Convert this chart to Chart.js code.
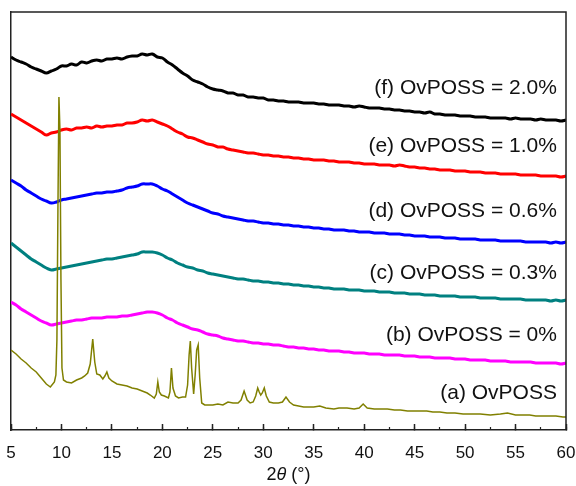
<!DOCTYPE html>
<html lang="en">
<head>
    <meta charset="UTF-8">
    <title>XRD OvPOSS</title>
    <style>
        body { margin: 0; background: #fff; }
        canvas { display: block; }
    </style>
    <script src="https://cdn.jsdelivr.net/npm/chart.js"></script>
</head>
<body>
    <canvas id="chart" width="576" height="486"></canvas>

    <script>
        // 2theta grid shared by the amorphous patterns (b) to (f)
        const twoTheta = [5, 5.5, 6, 6.5, 7, 7.5, 8, 8.5, 9, 9.5, 10, 10.5, 11, 11.5, 12, 12.5, 13, 13.5, 14, 14.5,
            15, 15.5, 16, 16.5, 17, 17.5, 18, 18.5, 19, 19.5, 20, 20.5, 21, 21.5, 22, 22.5, 23, 23.5, 24, 24.5,
            25, 25.5, 26, 26.5, 27, 27.5, 28, 28.5, 29, 29.5, 30, 30.5, 31, 31.5, 32, 32.5, 33, 33.5, 34, 34.5,
            35, 35.5, 36, 36.5, 37, 37.5, 38, 38.5, 39, 39.5, 40, 40.5, 41, 41.5, 42, 42.5, 43, 43.5, 44, 44.5,
            45, 45.5, 46, 46.5, 47, 47.5, 48, 48.5, 49, 49.5, 50, 50.5, 51, 51.5, 52, 52.5, 53, 53.5, 54, 54.5,
            55, 55.5, 56, 56.5, 57, 57.5, 58, 58.5, 59, 59.5, 60];

        // intensities (a.u., stacked with offsets as in the figure)
        const ovposs20 = [373, 370, 368, 366, 363, 361, 359, 357, 359, 361, 364, 364, 366, 365, 368, 367, 369, 370, 369, 371,
            371, 372, 371, 373, 374, 374, 376, 375, 376, 373, 372, 368, 365, 361, 357, 354, 350, 348, 346, 343,
            341, 340, 339, 337, 337, 335, 335, 333, 333, 332, 332, 330, 330, 329, 329, 328, 328, 328, 327, 327,
            327, 326, 326, 325, 325, 325, 324, 324, 323, 324, 323, 322, 322, 322, 321, 321, 320, 320, 319, 319,
            318, 318, 317, 318, 316, 316, 315, 315, 315, 314, 314, 314, 313, 313, 313, 312, 312, 312, 312, 311,
            312, 311, 311, 311, 310, 311, 310, 310, 310, 309, 310];
        const ovposs10 = [316, 313, 310, 307, 304, 301, 298, 295, 297, 298, 300, 301, 300, 302, 302, 303, 302, 304, 303, 304,
            304, 305, 305, 307, 307, 308, 310, 309, 310, 308, 306, 304, 301, 298, 296, 293, 292, 290, 288, 286,
            285, 283, 283, 281, 280, 279, 278, 277, 277, 276, 275, 275, 274, 274, 273, 273, 272, 272, 271, 271,
            270, 270, 270, 269, 269, 268, 268, 268, 267, 267, 266, 266, 266, 265, 265, 265, 264, 265, 264, 263,
            263, 262, 262, 261, 261, 260, 260, 260, 259, 259, 259, 258, 258, 258, 257, 257, 257, 256, 256, 256,
            256, 255, 255, 255, 255, 254, 254, 254, 254, 253, 254];
        const ovposs06 = [250, 247, 244, 240, 237, 234, 231, 229, 227, 228, 230, 231, 232, 233, 234, 235, 236, 237, 237, 238,
            238, 239, 240, 242, 243, 244, 246, 246, 246, 244, 241, 239, 236, 233, 230, 227, 225, 223, 221, 219,
            217, 216, 214, 213, 212, 211, 210, 209, 209, 208, 207, 207, 206, 206, 205, 205, 204, 204, 203, 203,
            202, 202, 201, 201, 200, 200, 200, 199, 199, 198, 198, 198, 197, 197, 197, 196, 196, 196, 195, 195,
            194, 194, 194, 193, 193, 193, 192, 192, 192, 191, 191, 191, 191, 190, 190, 190, 190, 189, 189, 189,
            189, 189, 188, 188, 188, 188, 188, 187, 188, 187, 188];
        const ovposs03 = [187, 183, 179, 175, 171, 168, 165, 162, 160, 161, 162, 163, 164, 165, 166, 167, 168, 169, 170, 171,
            171, 172, 173, 174, 175, 176, 178, 178, 178, 177, 175, 172, 170, 167, 165, 163, 162, 160, 159, 157,
            156, 155, 154, 153, 152, 151, 151, 150, 149, 149, 148, 148, 147, 147, 146, 146, 145, 145, 144, 144,
            143, 143, 142, 142, 141, 141, 141, 140, 140, 140, 139, 139, 139, 138, 138, 138, 137, 137, 137, 136,
            136, 136, 135, 135, 135, 134, 134, 134, 134, 133, 133, 133, 133, 132, 132, 132, 132, 131, 131, 131,
            131, 131, 130, 130, 130, 130, 130, 129, 130, 129, 130];
        const ovposs00 = [128, 125, 121, 118, 115, 112, 109, 107, 105, 106, 107, 108, 109, 110, 110, 111, 112, 112, 112, 113,
            113, 113, 114, 114, 115, 116, 117, 118, 118, 117, 115, 112, 110, 107, 105, 103, 101, 100, 98, 96,
            95, 94, 92, 91, 90, 89, 89, 88, 87, 87, 86, 86, 85, 85, 84, 83, 83, 82, 82, 81,
            81, 80, 80, 79, 79, 79, 78, 78, 77, 77, 77, 76, 76, 76, 75, 75, 75, 75, 74, 74,
            74, 73, 73, 73, 72, 72, 72, 72, 71, 71, 71, 70, 70, 70, 70, 69, 69, 69, 69, 68,
            68, 68, 68, 68, 67, 67, 67, 67, 67, 66, 67];

        // pure OvPOSS crystalline pattern, finer steps around the peaks
        const ovpossTheta = [5, 5.5, 6, 6.5, 7, 7.5, 8, 8.5, 8.9, 9.3, 9.45, 9.55, 9.65, 9.75, 9.85, 9.95, 10.05, 10.2, 10.5, 11,
            11.5, 12, 12.3, 12.6, 12.85, 13.1, 13.3, 13.5, 13.8, 14.1, 14.3, 14.5, 14.7, 15, 15.5, 16, 16.5, 17, 17.5, 18,
            18.5, 18.8, 19.2, 19.4, 19.55, 19.7, 19.9, 20.2, 20.6, 20.75, 20.9, 21.05, 21.3, 21.6, 22, 22.3, 22.5, 22.65, 22.77, 22.9,
            23.1, 23.25, 23.4, 23.55, 23.7, 23.9, 24.2, 24.6, 25, 25.5, 26, 26.5, 27, 27.5, 27.8, 28.1, 28.4, 28.7, 29, 29.25,
            29.45, 29.6, 29.75, 29.9, 30.1, 30.3, 30.6, 31, 31.5, 31.9, 32.25, 32.6, 33, 33.5, 34, 34.5, 35, 35.6, 36.2, 37,
            37.5, 38.3, 39, 39.5, 39.9, 40.3, 41, 41.6, 42.3, 43, 43.6, 44.3, 45, 45.6, 46.2, 46.8, 47.5, 48.2, 49, 49.8,
            50.5, 51.5, 52.5, 53.5, 54.2, 55, 56, 56.4, 57, 58, 59, 59.7, 60];
        const ovposs = [80, 76, 71, 67, 62, 58, 52, 46, 43, 48, 55, 90, 220, 333, 300, 150, 62, 50, 48, 47,
            50, 52, 54, 57, 66, 91, 68, 56, 55, 51, 54, 58, 52, 49, 46, 45, 44, 42, 41, 39,
            37, 35, 32, 36, 48, 38, 35, 34, 32, 38, 62, 42, 34, 32, 33, 33, 45, 75, 89, 62,
            36, 55, 80, 85, 52, 27, 25, 25, 25, 26, 25, 28, 27, 27, 30, 39, 30, 27, 28, 34,
            42, 38, 35, 37, 42, 34, 28, 27, 27, 28, 33, 28, 25, 24, 23, 23, 23, 24, 22, 21,
            22, 22, 21, 22, 26, 22, 21, 21, 21, 20, 20, 19, 19, 19, 19, 18, 18, 17, 17, 16,
            16, 16, 15, 16, 17, 15, 15, 15, 14, 14, 14, 13, 13];

        const seriesNames = ['(a) OvPOSS', '(b) OvPOSS = 0%', '(c) OvPOSS = 0.3%', '(d) OvPOSS = 0.6%', '(e) OvPOSS = 1.0%', '(f) OvPOSS = 2.0%'];
        const seriesColors = ['#808000', '#ff00ff', '#008080', '#0000ff', '#ff0000', '#000000'];
        // where each curve's name sits (2theta, intensity)
        const labelSpots = [[59.1, 37], [59.1, 95], [59.1, 157], [59.1, 219], [59.1, 284], [59.1, 342]];

        const xTicks = [5, 10, 15, 20, 25, 30, 35, 40, 45, 50, 55, 60];

        function toPoints(xs, ys) {
            return xs.map((x, i) => ({ x: x, y: ys[i] }));
        }

        const curves = [
            toPoints(ovpossTheta, ovposs),
            toPoints(twoTheta, ovposs00),
            toPoints(twoTheta, ovposs03),
            toPoints(twoTheta, ovposs06),
            toPoints(twoTheta, ovposs10),
            toPoints(twoTheta, ovposs20)
        ];

        const framePlugin = {
            id: 'frame',
            afterDraw(chart) {
                const { ctx, chartArea: a } = chart;
                ctx.save();
                ctx.strokeStyle = '#222';
                ctx.lineWidth = 1.5;
                ctx.beginPath();
                ctx.moveTo(a.left, a.top);
                ctx.lineTo(a.right, a.top);
                ctx.lineTo(a.right, a.bottom);
                ctx.stroke();
                ctx.restore();
            }
        };

        const labelPlugin = {
            id: 'curveLabels',
            afterDatasetsDraw(chart) {
                const { ctx, scales } = chart;
                ctx.save();
                ctx.font = '21px "Liberation Sans", Arial, sans-serif';
                ctx.fillStyle = '#111';
                ctx.textAlign = 'right';
                ctx.textBaseline = 'middle';
                seriesNames.forEach((name, i) => {
                    const px = scales.x.getPixelForValue(labelSpots[i][0]);
                    const py = scales.y.getPixelForValue(labelSpots[i][1]);
                    ctx.fillText(name, px, py);
                });

                // axis title: 2θ (°) with an italic theta
                const a = chart.chartArea;
                const parts = [['2', ''], ['\u03b8', 'italic '], [' (\u00b0)', '']];
                let total = 0;
                parts.forEach(p => {
                    ctx.font = p[1] + '18px "Liberation Sans", Arial, sans-serif';
                    total += ctx.measureText(p[0]).width;
                });
                let x = (a.left + a.right) / 2 - total / 2;
                ctx.textAlign = 'left';
                parts.forEach(p => {
                    ctx.font = p[1] + '18px "Liberation Sans", Arial, sans-serif';
                    ctx.fillText(p[0], x, 475);
                    x += ctx.measureText(p[0]).width;
                });
                ctx.restore();
            }
        };

        new Chart(document.getElementById('chart'), {
            type: 'line',
            data: {
                datasets: curves.map((pts, i) => ({
                    label: seriesNames[i],
                    data: pts,
                    borderColor: seriesColors[i],
                    borderWidth: i === 0 ? 1.5 : 3,
                    pointRadius: 0,
                    tension: i === 0 ? 0 : 0.4,
                    fill: false
                }))
            },
            options: {
                responsive: false,
                animation: false,
                layout: { padding: { left: 11, right: 10, top: 12, bottom: 0 } },
                plugins: {
                    legend: { display: false },
                    tooltip: { enabled: false }
                },
                scales: {
                    x: {
                        type: 'linear',
                        position: 'bottom',
                        weight: 1,
                        min: 5,
                        max: 60,
                        afterBuildTicks: s => { s.ticks = xTicks.map(v => ({ value: v })); },
                        afterFit: s => { s.height = 56; s.paddingLeft = 0; s.paddingRight = 0; },
                        ticks: {
                            color: '#111',
                            padding: 19,
                            maxRotation: 0,
                            font: { family: '"Liberation Sans", Arial, sans-serif', size: 17 }
                        },
                        grid: { drawOnChartArea: false, drawTicks: true, tickLength: -6, tickColor: '#222', tickWidth: 1.5 },
                        border: { color: '#222', width: 1.5 }
                    },
                    xMinor: {
                        type: 'linear',
                        position: 'bottom',
                        weight: 0,
                        min: 5,
                        max: 60,
                        ticks: { display: false, stepSize: 2.5 },
                        afterFit: s => { s.height = 0; s.paddingLeft = 0; s.paddingRight = 0; },
                        grid: { drawOnChartArea: false, drawTicks: true, tickLength: -3, tickColor: '#222', tickWidth: 1.2 },
                        border: { display: false }
                    },
                    y: {
                        min: 0,
                        max: 418,
                        ticks: { display: false },
                        grid: { display: false },
                        afterFit: s => { s.width = 0; },
                        border: { color: '#222', width: 1.5 }
                    }
                }
            },
            plugins: [framePlugin, labelPlugin]
        });
    </script>
</body>
</html>
